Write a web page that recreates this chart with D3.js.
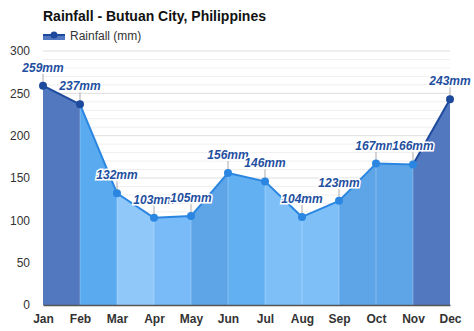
<!DOCTYPE html>
<html>
<head>
<meta charset="utf-8">
<script src="https://cdn.jsdelivr.net/npm/d3@7"></script>
<style>
body { margin: 0; background: #fff; font-family: "Liberation Sans", Arial, sans-serif; }
.tick text { font-family: "Liberation Sans", Arial, sans-serif; }
</style>
</head>
<body>
<div id="viz"></div>
<script>
var months = ["Jan", "Feb", "Mar", "Apr", "May", "Jun", "Jul", "Aug", "Sep", "Oct", "Nov", "Dec"];
var rainfall = [259, 237, 132, 103, 105, 156, 146, 104, 123, 167, 166, 243];
var yTicks = [0, 50, 100, 150, 200, 250, 300];

// fill of each segment between two months
var segFill = ["#5279c0", "#5aaaf0", "#90c8fa", "#78bbf8", "#5ea5e8", "#62b0f2",
    "#7ebff8", "#7ebff8", "#5ea5e8", "#5ea5e8", "#5279c0"];
var segLine = ["#1d4a9c", "#2a86e0", "#2a86e0", "#2a86e0", "#2a86e0", "#2a86e0",
    "#2a86e0", "#2a86e0", "#2a86e0", "#2a86e0", "#1d4a9c"];

var margin = {top: 51, right: 24, bottom: 26, left: 43};
var width = 474 - margin.left - margin.right,
    height = 331 - margin.top - margin.bottom;

var svg = d3.select("#viz").append("svg")
    .attr("width", 474)
    .attr("height", 331);

// title + legend
svg.append("text")
    .attr("x", 43).attr("y", 21)
    .attr("font-size", "14px")
    .attr("font-weight", "bold")
    .attr("fill", "#111")
    .text("Rainfall - Butuan City, Philippines");

var leg = svg.append("g").attr("transform", "translate(43,36)");
leg.append("rect").attr("x", 0).attr("y", -1).attr("width", 22).attr("height", 5).attr("fill", "#5279c0");
leg.append("line").attr("x1", 0).attr("x2", 22).attr("y1", -1).attr("y2", -1)
    .attr("stroke", "#1d4a9c").attr("stroke-width", 2);
leg.append("circle").attr("cx", 11).attr("cy", -1).attr("r", 3.5).attr("fill", "#1d4a9c");
leg.append("text").attr("x", 27).attr("y", 4)
    .attr("font-size", "12px").attr("fill", "#333")
    .text("Rainfall (mm)");

var g = svg.append("g")
    .attr("transform", "translate(" + margin.left + "," + margin.top + ")");

var xScale = d3.scalePoint()
    .domain(months)
    .range([0, width]);
var yScale = d3.scaleLinear()
    .domain([0, 300])
    .range([height, 0]);

// grid, minor every 10, major every 50
g.selectAll(".minor")
    .data(d3.range(10, 301, 10))
    .enter().append("line")
    .attr("x1", 0).attr("x2", width)
    .attr("y1", function(d) { return yScale(d); })
    .attr("y2", function(d) { return yScale(d); })
    .attr("stroke", function(d) { return d % 50 == 0 ? "#dedede" : "#efefef"; })
    .attr("stroke-width", 1);

// segment areas
var area = d3.area()
    .x(function(d) { return xScale(d.m); })
    .y0(height)
    .y1(function(d) { return yScale(d.v); });

var segs = [];
for (var i = 0; i < months.length - 1; i++) {
    segs.push([{m: months[i], v: rainfall[i]}, {m: months[i + 1], v: rainfall[i + 1]}]);
}

g.selectAll(".seg")
    .data(segs)
    .enter().append("path")
    .attr("class", "seg")
    .attr("d", area)
    .attr("fill", function(d, i) { return segFill[i]; });

// faint separators
g.selectAll(".sep")
    .data(months.slice(1, -1))
    .enter().append("line")
    .attr("x1", function(d) { return xScale(d); })
    .attr("x2", function(d) { return xScale(d); })
    .attr("y1", height)
    .attr("y2", function(d, i) { return yScale(rainfall[i + 1]); })
    .attr("stroke", "#ffffff")
    .attr("stroke-opacity", 0.25);

// lines
var line = d3.line()
    .x(function(d) { return xScale(d.m); })
    .y(function(d) { return yScale(d.v); });

g.selectAll(".ln")
    .data(segs)
    .enter().append("path")
    .attr("d", line)
    .attr("fill", "none")
    .attr("stroke", function(d, i) { return segLine[i]; })
    .attr("stroke-width", 2);

// axes
var yAxis = d3.axisLeft(yScale).tickValues(yTicks).tickSize(0).tickPadding(13);
var gy = g.append("g").call(yAxis);
gy.select(".domain").remove();
gy.selectAll("text").attr("font-size", "12px").attr("fill", "#333");

var xAxis = d3.axisBottom(xScale).tickSize(0).tickPadding(9);
var gx = g.append("g").attr("transform", "translate(0," + height + ")").call(xAxis);
gx.select(".domain").attr("stroke", "#555").attr("stroke-width", 1.5);
gx.selectAll("text").attr("font-size", "12px").attr("font-weight", "bold").attr("fill", "#333");

// label stems
var data = months.map(function(m, i) { return {m: m, v: rainfall[i]}; });
g.selectAll(".stem")
    .data(data)
    .enter().append("line")
    .attr("x1", function(d) { return xScale(d.m); })
    .attr("x2", function(d) { return xScale(d.m); })
    .attr("y1", function(d) { return yScale(d.v); })
    .attr("y2", function(d) { return yScale(d.v) - 12; })
    .attr("stroke", "#aaa");

// points
g.selectAll(".pt")
    .data(data)
    .enter().append("circle")
    .attr("cx", function(d) { return xScale(d.m); })
    .attr("cy", function(d) { return yScale(d.v); })
    .attr("r", 4)
    .attr("fill", function(d, i) { return (i < 2 || i == 11) ? "#1d4a9c" : "#2a86e0"; });

// value labels
g.selectAll(".lbl")
    .data(data)
    .enter().append("text")
    .attr("x", function(d) { return xScale(d.m); })
    .attr("y", function(d) { return yScale(d.v) - 14; })
    .attr("text-anchor", "middle")
    .attr("font-size", "12px")
    .attr("font-weight", "bold")
    .attr("font-style", "italic")
    .attr("fill", "#1f4f9f")
    .attr("stroke", "#fff")
    .attr("stroke-width", 3)
    .attr("paint-order", "stroke")
    .text(function(d) { return d.v + "mm"; });
</script>
</body>
</html>
